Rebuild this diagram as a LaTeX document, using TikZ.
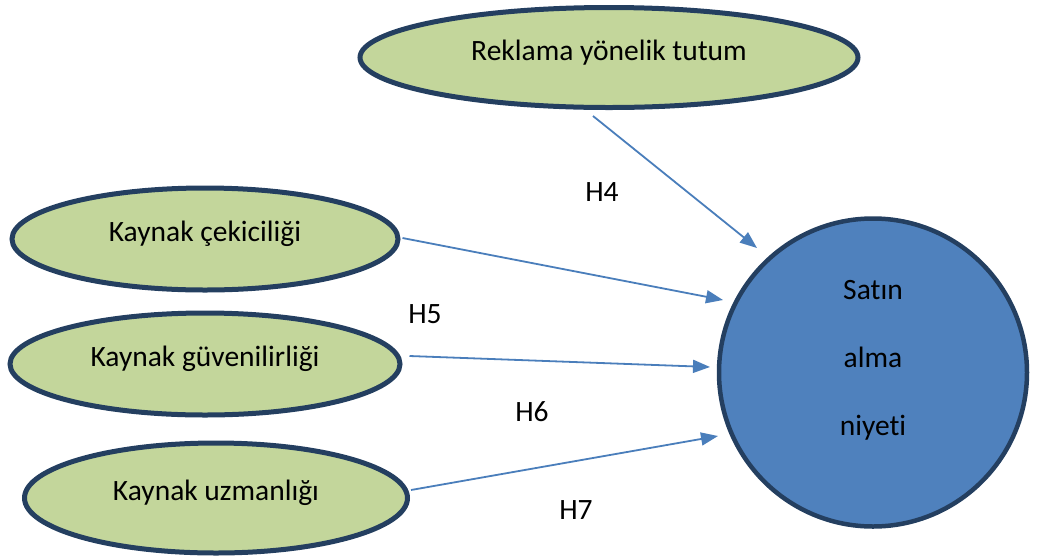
\documentclass[tikz,border=0pt]{standalone}
\usepackage{fontspec}
\setmainfont{Carlito}[Ligatures=NoCommon]
\usetikzlibrary{shapes.geometric,arrows.meta}
\definecolor{olive}{HTML}{C3D69B}
\definecolor{navy}{HTML}{243F60}
\definecolor{cblue}{HTML}{4F81BD}
\definecolor{arrowblue}{HTML}{4A7EBB}
\begin{document}
\begin{tikzpicture}[x=1pt,y=-1pt,
  every node/.style={font=\fontsize{29.5}{35}\selectfont},
  oval/.style={ellipse,draw=navy,line width=5pt,fill=olive,inner sep=0pt,text height=22pt,text depth=17pt},
  arr/.style={draw=arrowblue,line width=1.8pt,-{Triangle[length=17pt,width=13pt]}},
  hyp/.style={inner sep=0pt}]
\useasboundingbox (0,0) rectangle (1037,558);
\node[oval,minimum width=498pt,minimum height=100pt] (e1) at (609,57.5) {Reklama yönelik tutum};
\node[oval,minimum width=386pt,minimum height=102pt] (e2) at (205,239) {Kaynak çekiciliği};
\node[oval,minimum width=390pt,minimum height=102pt] (e3) at (205,364) {Kaynak güvenilirliği};
\node[oval,minimum width=383pt,minimum height=110pt] (e4) at (216,498) {Kaynak uzmanlığı};
\node[circle,draw=navy,line width=4.5pt,fill=cblue,minimum size=308pt,inner sep=0pt,align=center] (c) at (873,372.5) {Satın\\[33pt]alma\\[33pt]niyeti\\[-6pt]};
\draw[arr] ([shift={(-16,6)}]e1.south) -- ([shift={(-116,-124.5)}]c.center);
\draw[arr] ([shift={(2,-1)}]e2.east) -- ([shift={(-150,-72.5)}]c.center);
\draw[arr] ([shift={(7,-8)}]e3.east) -- ([shift={(-163,-5.5)}]c.center);
\draw[arr] ([shift={(1,-8)}]e4.east) -- ([shift={(-155,63.5)}]c.center);
\node[hyp] (h4) at (602,192) {H4};
\node[hyp] (h5) at (425,314) {H5};
\node[hyp] (h6) at (532,412) {H6};
\node[hyp] (h7) at (576,510) {H7};
\end{tikzpicture}
\end{document}
